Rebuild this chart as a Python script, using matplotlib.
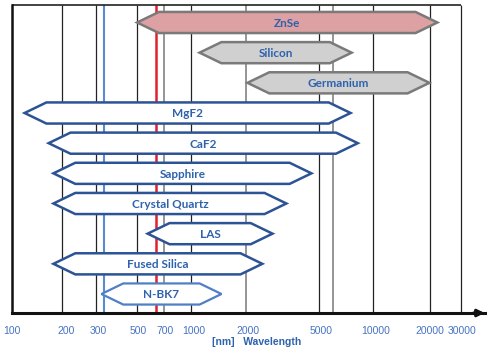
import numpy as np
import matplotlib
matplotlib.use("Agg")
import matplotlib.pyplot as plt
from matplotlib.patches import Polygon

# materials, transmission range in nm (tip to tip of each hexagon)
materials = ["ZnSe", "Silicon", "Germanium", "MgF2", "CaF2", "Sapphire",
             "Crystal Quartz", "LAS", "Fused Silica", "N-BK7"]
range_start = [490, 1080, 1980, 118, 160, 170, 170, 560, 170, 312]
range_end = [21900, 7400, 19800, 7300, 8000, 4450, 3240, 2720, 2390, 1425]

tick_values = [100, 200, 300, 500, 700, 1000, 2000, 5000, 10000, 20000, 30000]
grid_black = [190, 290, 490, 975, 4920, 9750, 20000, 29700]
grid_gray = [685, 1955, 5880]
laser_blue = 324
laser_red = 626

fills = {"ZnSe": "#dda0a3", "Silicon": "#d0d0d0", "Germanium": "#d0d0d0"}
edges = {"ZnSe": "#7a7a7a", "Silicon": "#7a7a7a", "Germanium": "#7a7a7a",
         "N-BK7": "#4f7fc6"}
text_blue = "#2e62ad"

fig = plt.figure(figsize=(4.95, 3.51), dpi=100)
ax = fig.add_axes([11.5 / 495, 38 / 351, 473.5 / 495, 308 / 351])
ax.set_xscale("log")
ax.set_xlim(100, 40000)
ax.set_ylim(9.63, -0.58)

# grid lines behind the bars
ax.vlines(grid_black, -0.58, 9.63, color="#222222", lw=0.9, zorder=1)
ax.vlines(grid_gray, -0.58, 9.63, color="#8c8c8c", lw=1.3, zorder=1)
ax.vlines(laser_blue, -0.58, 9.63, color="#5a8ad0", lw=1.5, zorder=1)
ax.vlines(laser_red, -0.58, 9.63, color="#e2202a", lw=1.8, zorder=1)
# top border of the frame ends at the 30000 line
ax.hlines(-0.58, 100, 29700, color="#222222", lw=1.2, zorder=1, clip_on=False)

tip = 10 ** 0.12
h = 0.35
for i, name in enumerate(materials):
    x0, x1 = range_start[i], range_end[i]
    pts = [(x0, i), (x0 * tip, i - h), (x1 / tip, i - h),
           (x1, i), (x1 / tip, i + h), (x0 * tip, i + h)]
    lw = 1.8 if name != "N-BK7" else 1.6
    poly = Polygon(pts, closed=True, facecolor=fills.get(name, "white"),
                   edgecolor=edges.get(name, "#2c5394"), lw=lw, zorder=3,
                   joinstyle="miter")
    ax.add_patch(poly)
    ax.text(np.sqrt(x0 * x1), i + 0.03, name, ha="center", va="center",
            fontsize=8.5, fontweight="bold", family="Lato", color=text_blue,
            zorder=4)

for s in ["top", "right"]:
    ax.spines[s].set_visible(False)
ax.spines["left"].set_linewidth(1.8)
ax.spines["left"].set_color("#111111")
ax.spines["bottom"].set_linewidth(2.2)
ax.spines["bottom"].set_color("#111111")
ax.annotate("", xy=(1.005, 0), xytext=(0.97, 0), xycoords="axes fraction",
            arrowprops=dict(arrowstyle="-|>", color="#111111", lw=2.2,
                            mutation_scale=10), annotation_clip=False)

ax.set_yticks([])
ax.set_xticks(tick_values)
ax.set_xticklabels([str(v) for v in tick_values])
ax.xaxis.set_minor_locator(matplotlib.ticker.NullLocator())
ax.tick_params(axis="x", length=0, pad=9, labelsize=7.5, labelcolor="#4673c2")
for lab in ax.get_xticklabels():
    lab.set_family("Liberation Sans")

fig.text(257 / 495, 1 - 342 / 351, "[nm]   Wavelength", ha="center", va="center",
         fontsize=7.5, fontweight="bold", family="Liberation Sans",
         color="#2e62ad")

fig.savefig("out.png", dpi=100)
